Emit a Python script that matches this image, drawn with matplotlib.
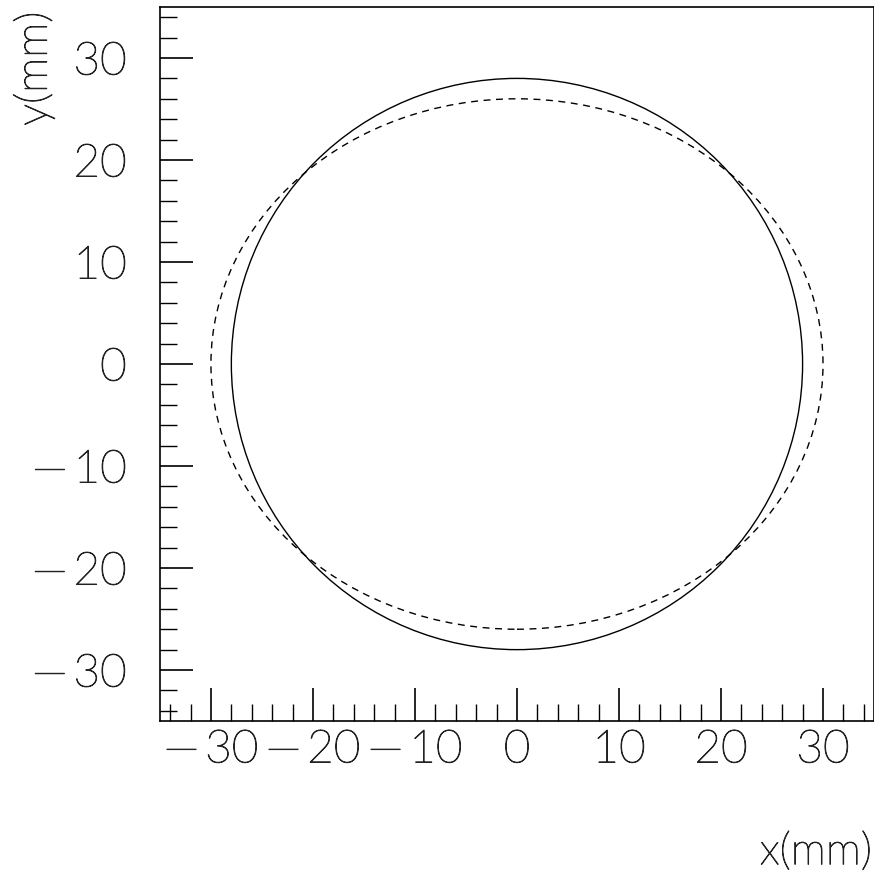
import matplotlib
matplotlib.use("Agg")
import matplotlib.pyplot as plt
import matplotlib.patheffects as pe
from matplotlib.patches import Circle, Ellipse
from matplotlib.ticker import MultipleLocator

# Axis ranges and ticks
x_range = [-35, 35]
y_range = [-35, 35]
major_ticks = [-30, -20, -10, 0, 10, 20, 30]

# Beam envelope: solid circle and dashed ellipse (mm)
circle_center = (0.0, 0.0)
circle_radius = 28.0
ellipse_center = (0.0, 0.0)
ellipse_semi_x = 30.0
ellipse_semi_y = 26.0

plt.rcParams['font.family'] = ['Lato', 'DejaVu Sans']
plt.rcParams['font.weight'] = 'light'

# thin, dark strokes for all text
STROKE = [pe.withStroke(linewidth=0.7, foreground='#222222')]
TEXT_KW = dict(fontweight='light', color='#222222', path_effects=STROKE)


def tick_text(v):
    return ("\u2014\u2009" + str(-v)) if v < 0 else str(v)


fig = plt.figure(figsize=(8.74, 8.74), dpi=100)
ax = fig.add_axes([0.183, 0.175, 0.817, 0.817])

ax.add_patch(Circle(circle_center, circle_radius, fill=False,
                    edgecolor='black', linewidth=1.0))
ax.add_patch(Ellipse(ellipse_center, 2 * ellipse_semi_x, 2 * ellipse_semi_y,
                     fill=False, edgecolor='black', linewidth=1.0,
                     linestyle=(0, (5, 4))))

ax.set_xlim(x_range)
ax.set_ylim(y_range)
ax.set_xticks(major_ticks)
ax.set_yticks(major_ticks)
ax.set_xticklabels([tick_text(t) for t in major_ticks])
ax.set_yticklabels([tick_text(t) for t in major_ticks])
ax.xaxis.set_minor_locator(MultipleLocator(2))
ax.yaxis.set_minor_locator(MultipleLocator(2))

ax.tick_params(which='both', direction='in', top=False, right=False,
               colors='black', labelsize=33)
ax.tick_params(which='major', length=24, width=1.2)
ax.tick_params(which='minor', length=12, width=1.0)
ax.tick_params(axis='x', which='major', pad=6)
ax.tick_params(axis='y', which='major', pad=24)
for lab in ax.get_xticklabels() + ax.get_yticklabels():
    lab.set_fontweight('light')
    lab.set_color('#222222')
    lab.set_path_effects(STROKE)
for sp in ax.spines.values():
    sp.set_linewidth(1.2)

fig.text(0.998, 0.002, "x(mm)", ha='right', va='bottom', fontsize=32, **TEXT_KW)
fig.text(0.039, 0.987, "y(mm)", ha='center', va='top', rotation=90,
         fontsize=32, **TEXT_KW)

fig.savefig("out.png", dpi=100)
